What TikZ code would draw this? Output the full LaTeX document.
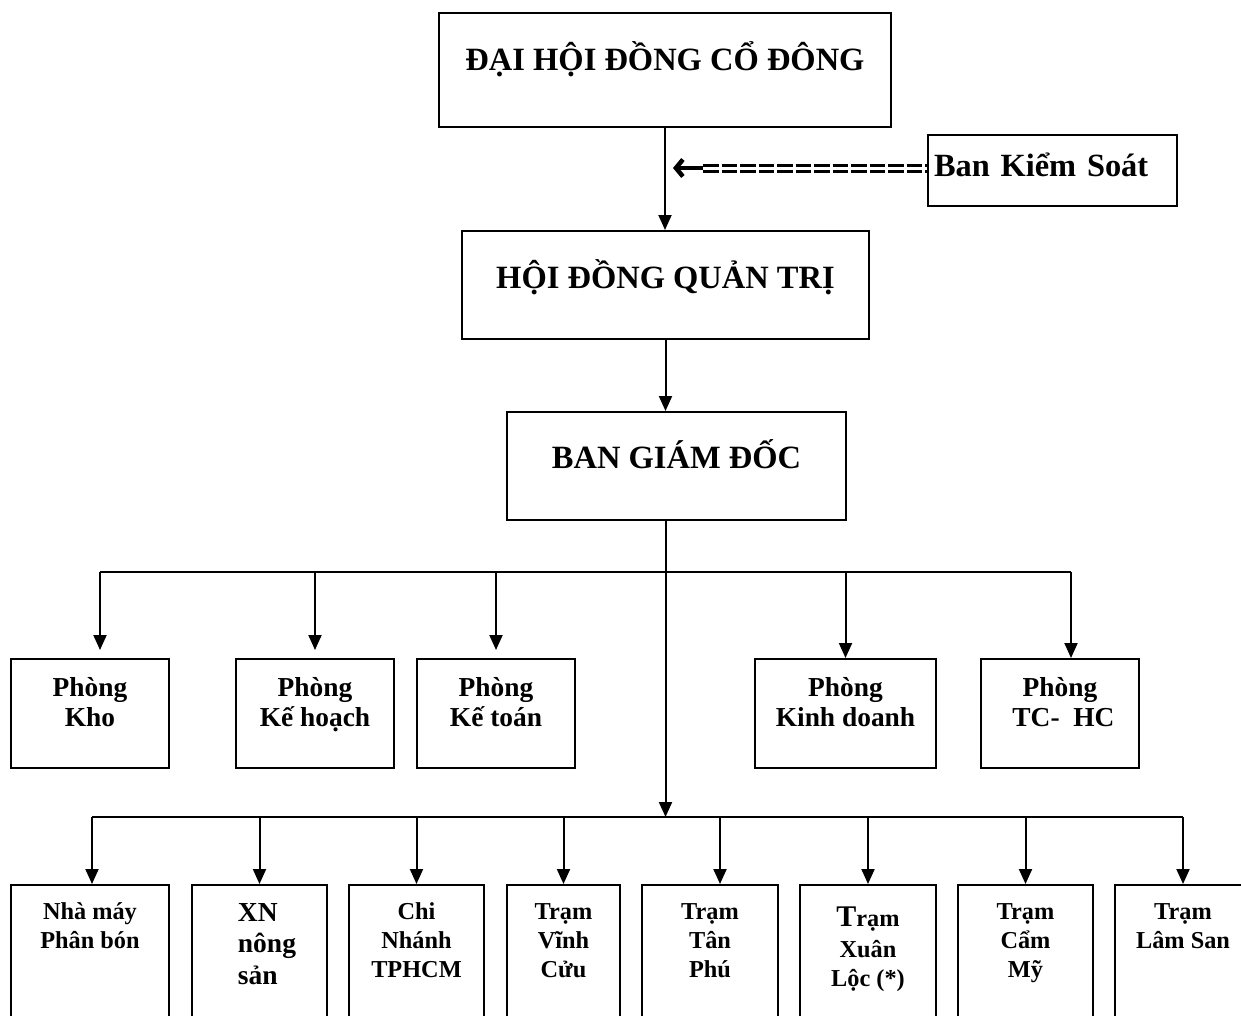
\documentclass[tikz,border=0pt]{standalone}
\usepackage{fontspec}
\setmainfont{Liberation Serif}
\usetikzlibrary{arrows.meta}

\newcommand{\lines}[1]{\begin{tabular}[t]{@{}c@{}}#1\end{tabular}}

\tikzset{
  wire/.style={line width=2pt},
  link/.style={wire, -{Triangle[length=15pt,width=13pt]}},
  eqline/.style={line width=3pt, double, double distance=3pt, dash pattern=on 15.5pt off 3pt},
  box/.style={draw, line width=2pt, inner sep=0pt, anchor=north west},
  headbox/.style={box, font=\bfseries\fontsize{32.5}{38}\selectfont},
  deptbox/.style={box, font=\bfseries\fontsize{27.4}{30}\selectfont, minimum width=158pt, text height=37pt, text depth=72pt},
  unitbox/.style={box, font=\bfseries\fontsize{24.3}{29}\selectfont, minimum width=135pt, text height=34pt, text depth=126pt},
}

\begin{document}
\begin{tikzpicture}[x=1pt, y=-1pt]
\useasboundingbox (0,0) rectangle (1241,1015);

% upper levels
\node[headbox, minimum width=452pt, text height=57.5pt, text depth=56.5pt] (dhdcd) at (438,12) {ĐẠI HỘI ĐỒNG CỔ ĐÔNG};
\node[headbox, minimum width=407pt, text height=57pt, text depth=51pt] (hdqt) at (461,230) {HỘI ĐỒNG QUẢN TRỊ};
\node[headbox, minimum width=339pt, text height=56pt, text depth=52pt] (bgd) at (506,411) {BAN GIÁM ĐỐC};
\node[box, font=\bfseries\fontsize{32.4}{38}\selectfont, text width=237pt, inner xsep=6pt, align=left, text height=41pt, text depth=30pt] (bks) at (927,134) {Ban Kiểm Soát};

% departments
\node[deptbox] (kho) at (10,658) {\lines{Phòng\\Kho}};
\node[deptbox] (kehoach) at (235,658) {\lines{Phòng\\Kế hoạch}};
\node[deptbox] (ketoan) at (416,658) {\lines{Phòng\\Kế toán}};
\node[deptbox, minimum width=181pt] (kinhdoanh) at (754,658) {\lines{Phòng\\Kinh doanh}};
\node[deptbox] (tchc) at (980,658) {\lines{Phòng\\\ TC-\ \ HC}};

% units
\node[unitbox, minimum width=158pt] (nmpb) at (10,884) {\lines{Nhà máy\\Phân bón}};
\node[unitbox, font=\bfseries\fontsize{27.5}{31.5}\selectfont, text height=36pt] (xnns) at (191,884) {\begin{tabular}[t]{@{\hspace{15pt}}l@{}}XN\\nông\\sản\end{tabular}};
\node[unitbox] (cntp) at (348,884) {\lines{Chi\\Nhánh\\TPHCM}};
\node[unitbox, minimum width=113pt] (tvc) at (506,884) {\lines{Trạm\\Vĩnh\\Cửu}};
\node[unitbox, minimum width=136pt] (ttp) at (641,884) {\lines{Trạm\\Tân\\Phú}};
\node[unitbox, minimum width=136pt, text height=41pt] (txl) at (799,884) {\lines{{\fontsize{30}{34}\selectfont T}rạm\\[2pt]Xuân\\Lộc (*)}};
\node[unitbox] (tcm) at (957,884) {\lines{Trạm\\Cẩm\\Mỹ}};
\node[unitbox, minimum width=136pt] (tls) at (1114,884) {\lines{Trạm\\Lâm San}};

\coordinate (bar1) at (664,572);
\coordinate (bar2) at (664,817);
\coordinate (ctrl) at (703,168);
\coordinate (ctrltip) at (673,168);

% main line
\draw[link] (dhdcd.south) -- (dhdcd.south |- hdqt.north);
\draw[link] (hdqt.south) -- (hdqt.south |- bgd.north);
\draw[link] (hdqt.south |- bgd.south) -- (hdqt.south |- bar2);

% control
\draw[eqline] (ctrl) -- (bks.west |- ctrl);
\draw[line width=4.5pt, -{Straight Barb[length=7pt,width=17pt]}] (ctrl) -- (ctrltip);

% departments
\draw[wire] ([xshift=10pt]kho.north |- bar1) -- ([xshift=11pt]tchc.north |- bar1);
\draw[link, shorten >=8pt] ([xshift=10pt]kho.north |- bar1) -- ([xshift=10pt]kho.north);
\draw[link, shorten >=8pt] (kehoach.north |- bar1) -- (kehoach.north);
\draw[link, shorten >=8pt] (ketoan.north |- bar1) -- (ketoan.north);
\draw[link] (kinhdoanh.north |- bar1) -- (kinhdoanh.north);
\draw[link] ([xshift=11pt]tchc.north |- bar1) -- ([xshift=11pt]tchc.north);

% units
\draw[wire] ([xshift=2pt]nmpb.north |- bar2) -- (tls.north |- bar2);
\draw[link] ([xshift=2pt]nmpb.north |- bar2) -- ([xshift=2pt]nmpb.north);
\draw[link] (xnns.north |- bar2) -- (xnns.north);
\draw[link] (cntp.north |- bar2) -- (cntp.north);
\draw[link] (tvc.north |- bar2) -- (tvc.north);
\draw[link] ([xshift=10pt]ttp.north |- bar2) -- ([xshift=10pt]ttp.north);
\draw[link] (txl.north |- bar2) -- (txl.north);
\draw[link] (tcm.north |- bar2) -- (tcm.north);
\draw[link] (tls.north |- bar2) -- (tls.north);
\end{tikzpicture}
\end{document}
